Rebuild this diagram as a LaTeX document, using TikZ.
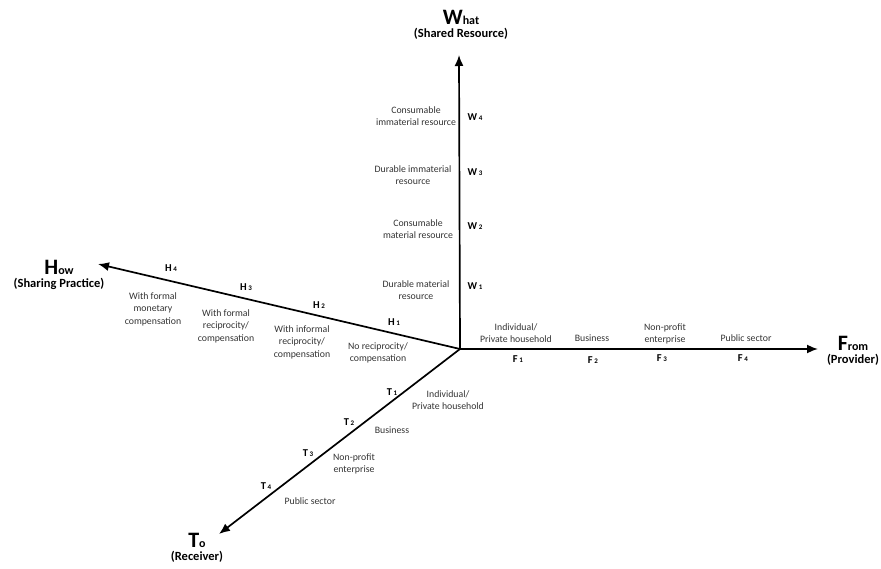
\documentclass[tikz,border=0pt]{standalone}
\usepackage{fontspec}
\setmainfont{Carlito}
\usetikzlibrary{arrows.meta}
\newcommand\tklab[2]{\textbf{{\fontsize{10.5}{10.5}\selectfont #1}\,{\fontsize{7}{7}\selectfont #2}}}
\newcommand\axlab[3]{\textbf{{\fontsize{22}{22}\selectfont #1}{\fontsize{12}{12}\selectfont #2}}\\[1pt]\textbf{\fontsize{12.5}{14}\selectfont #3}}
\tikzset{
  axis/.style={line width=1.7pt,-{Latex[length=11pt,width=9pt]}},
  desc/.style={align=center,font=\fontsize{9.8}{12.5}\selectfont,text=black!80,inner sep=0pt},
  tick/.style={inner sep=0pt},
  axname/.style={align=center,inner sep=0pt}
}
\begin{document}
\begin{tikzpicture}[x=1pt,y=-1pt]
\useasboundingbox (0,0) rectangle (881,569);
\coordinate (O) at (460,349);
\coordinate (Wt) at (459,55);
\coordinate (Ft) at (818,349);
\coordinate (Ht) at (98,264);
\coordinate (Tt) at (219,534);
\draw[axis] (O) -- (Wt);
\draw[axis] (O) -- (Ft);
\draw[axis] (O) -- (Ht);
\draw[axis] (O) -- (Tt);
% axis names
\node[axname] (what) at (461,25) {\axlab{W}{hat}{(Shared Resource)}};
\node[axname] (from) at (853,351) {\axlab{F}{rom}{(Provider)}};
\node[axname] (how) at (59,275) {\axlab{H}{ow}{(Sharing Practice)}};
\node[axname] (to) at (197,548) {\axlab{T}{o}{(Receiver)}};
% W ticks
\node[tick] (w4) at (475,117) {\tklab{W}{4}};
\node[tick] (w3) at (475,172) {\tklab{W}{3}};
\node[tick] (w2) at (475,226) {\tklab{W}{2}};
\node[tick] (w1) at (475,286) {\tklab{W}{1}};
\node[desc] (dw4) at (416,116) {Consumable\\immaterial resource};
\node[desc] (dw3) at (413,175) {Durable immaterial\\resource};
\node[desc] (dw2) at (418,229) {Consumable\\material resource};
\node[desc] (dw1) at (416,290) {Durable material\\resource};
% F ticks
\node[tick] (f1) at (518,359) {\tklab{F}{1}};
\node[tick] (f2) at (593,360) {\tklab{F}{2}};
\node[tick] (f3) at (662,358) {\tklab{F}{3}};
\node[tick] (f4) at (743,358) {\tklab{F}{4}};
\node[desc] (df1) at (516,333) {Individual/\\Private household};
\node[desc] (df2) at (592,338) {Business};
\node[desc] (df3) at (665,334) {Non-profit\\enterprise};
\node[desc] (df4) at (746,338) {Public sector};
% H ticks
\node[tick] (h4) at (171,268) {\tklab{H}{4}};
\node[tick] (h3) at (246,287) {\tklab{H}{3}};
\node[tick] (h2) at (319,305) {\tklab{H}{2}};
\node[tick] (h1) at (394,322) {\tklab{H}{1}};
\node[desc] (dh4) at (153,309) {With formal\\monetary\\compensation};
\node[desc] (dh3) at (226,326) {With formal\\reciprocity/\\compensation};
\node[desc] (dh2) at (302,342) {With informal\\reciprocity/\\compensation};
\node[desc] (dh1) at (378,353) {No reciprocity/\\compensation};
% T ticks
\node[tick] (t1) at (392,392) {\tklab{T}{1}};
\node[tick] (t2) at (349,422) {\tklab{T}{2}};
\node[tick] (t3) at (308,453) {\tklab{T}{3}};
\node[tick] (t4) at (266,486) {\tklab{T}{4}};
\node[desc] (dt1) at (448,400) {Individual/\\Private household};
\node[desc] (dt2) at (392,430) {Business};
\node[desc] (dt3) at (354,464) {Non-profit\\enterprise};
\node[desc] (dt4) at (310,501) {Public sector};
\end{tikzpicture}
\end{document}
